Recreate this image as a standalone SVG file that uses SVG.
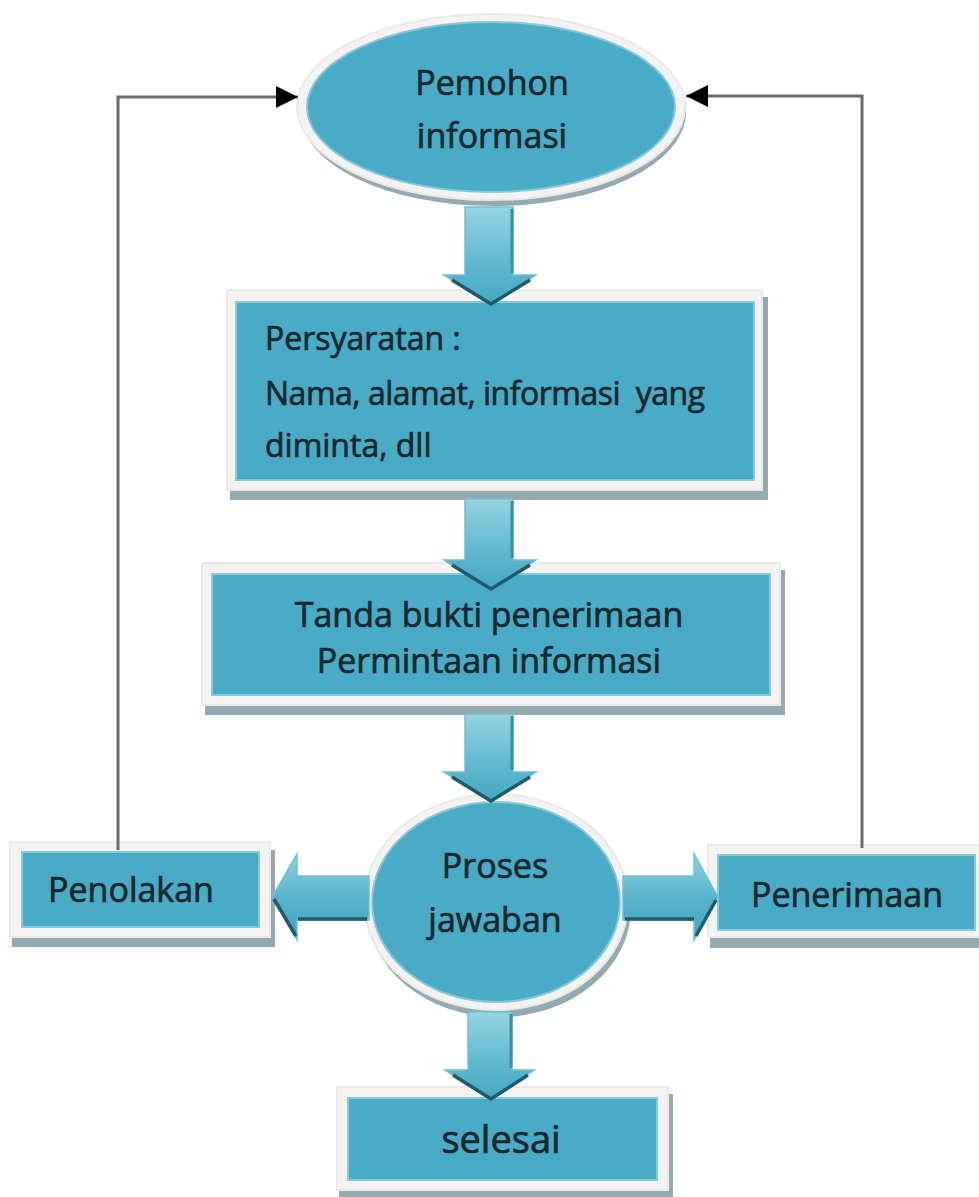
<svg xmlns="http://www.w3.org/2000/svg" width="979" height="1197" viewBox="0 0 979 1197">
<style>
.bg{fill:#ffffff}
.shadow{fill:#93aab1}
.rim{fill:#f5f3f2;stroke:#e9e9e9;stroke-width:2}
.blue{fill:#4aabc6;stroke:#86c9db;stroke-width:2}
.txt{font-family:"Open Sans","Liberation Sans",sans-serif;font-size:34px;fill:#17282e;stroke:#17282e;stroke-width:0.7}
.mid{text-anchor:middle}
.line{fill:none;stroke:#6b6b6b;stroke-width:3}
.barrow{fill:url(#gV);stroke:#6fc0d5;stroke-width:1.5}
.hbarrow{fill:url(#gH);stroke:#6fc0d5;stroke-width:1.5}
.dark{fill:none;stroke:#1f5a69;stroke-width:3.5;stroke-linejoin:miter}
.edge{fill:none;stroke:#3b8ea4;stroke-width:3}
</style>
<defs>
<linearGradient id="gV" x1="0" y1="0" x2="0" y2="1">
<stop offset="0" stop-color="#97d4e3"/>
<stop offset="0.6" stop-color="#5db6cd"/>
<stop offset="1" stop-color="#46a8c2"/>
</linearGradient>
<linearGradient id="gH" x1="0" y1="0" x2="0" y2="1">
<stop offset="0" stop-color="#8fd0e0"/>
<stop offset="0.55" stop-color="#54b1c9"/>
<stop offset="1" stop-color="#45a7c1"/>
</linearGradient>
<marker id="ah" markerUnits="userSpaceOnUse" markerWidth="22" markerHeight="22" viewBox="0 0 22 22" refX="22" refY="11" orient="auto">
<path d="M0,0 L22,11 L0,22 z" fill="#000"/>
</marker>
</defs>
<rect class="bg" x="0" y="0" width="979" height="1197"/>

<g id="pemohon">
<ellipse class="shadow" cx="493" cy="112" rx="193" ry="94"/>
<ellipse class="rim" cx="491" cy="107" rx="194" ry="93"/>
<ellipse class="blue" cx="491" cy="107" rx="184" ry="85"/>
<text class="txt mid" x="492" y="95">Pemohon</text>
<text class="txt mid" x="492" y="148">informasi</text>
</g>

<g id="persyaratan">
<rect class="shadow" x="230" y="297" width="538" height="203"/>
<rect class="rim" x="227" y="290" width="535" height="200"/>
<rect class="blue" x="236" y="302" width="518" height="178"/>
<text class="txt" style="font-size:32px" x="265" y="350">Persyaratan :</text>
<text class="txt" style="font-size:32px" x="265" y="405" textLength="440" lengthAdjust="spacing" xml:space="preserve">Nama, alamat, informasi  yang</text>
<text class="txt" style="font-size:32px" x="265" y="457">diminta, dll</text>
</g>

<g id="tanda-bukti">
<rect class="shadow" x="205" y="570" width="580" height="145"/>
<rect class="rim" x="202" y="563" width="578" height="142"/>
<rect class="blue" x="212" y="574" width="558" height="121"/>
<text class="txt mid" x="489" y="627">Tanda bukti penerimaan</text>
<text class="txt mid" x="489" y="673">Permintaan informasi</text>
</g>

<g id="proses-jawaban">
<ellipse class="shadow" cx="499" cy="908" rx="132" ry="109"/>
<ellipse class="rim" cx="496" cy="902" rx="132" ry="108"/>
<ellipse class="blue" cx="496" cy="902" rx="124" ry="100"/>
<text class="txt mid" x="495" y="878">Proses</text>
<text class="txt mid" x="495" y="932">jawaban</text>
</g>

<g id="penolakan">
<rect class="shadow" x="12" y="850" width="263" height="97"/>
<rect class="rim" x="10" y="842" width="260" height="95"/>
<rect class="blue" x="22" y="852" width="237" height="75"/>
<text class="txt mid" x="131" y="902">Penolakan</text>
</g>

<g id="penerimaan">
<rect class="shadow" x="710" y="852" width="280" height="96"/>
<rect class="rim" x="708" y="845" width="280" height="92"/>
<rect class="blue" x="718" y="855" width="257" height="75"/>
<text class="txt mid" x="847" y="907">Penerimaan</text>
</g>

<g id="selesai">
<rect class="shadow" x="339" y="1094" width="334" height="103"/>
<rect class="rim" x="337" y="1087" width="331" height="103"/>
<rect class="blue" x="348" y="1098" width="309" height="82"/>
<text class="txt mid" style="font-size:38px" x="501" y="1153">selesai</text>
</g>

<g id="connectors">
<path class="line" d="M118,850 V97 H298" marker-end="url(#ah)"/>
<path class="line" d="M862,848 V96 H686" marker-end="url(#ah)"/>

<path class="barrow" d="M465,207 H513 V275 H536 L491,305 L444,275 H465 Z"/>
<path class="edge" d="M512,209 V273"/>
<path class="dark" d="M452,280 L491,304 L530,280"/>

<path class="barrow" d="M465,499 H513 V560 H536 L491,590 L444,560 H465 Z"/>
<path class="edge" d="M512,501 V558"/>
<path class="dark" d="M452,565 L491,589 L530,565"/>

<path class="barrow" d="M465,714 H513 V772 H536 L491,802 L444,772 H465 Z"/>
<path class="edge" d="M512,716 V770"/>
<path class="dark" d="M452,777 L491,801 L530,777"/>

<path class="barrow" d="M468,1012 H512 V1070 H534 L491,1100 L445,1070 H468 Z"/>
<path class="edge" d="M511,1014 V1068"/>
<path class="dark" d="M453,1075 L491,1099 L528,1075"/>

<path class="hbarrow" d="M369,876 V920 H297 V940 L272,897 L297,854 V876 Z"/>
<path class="dark" d="M367,919 H298"/>
<path class="dark" d="M296,936 L274,899"/>

<path class="hbarrow" d="M623,876 V920 H694 V940 L718,897 L694,854 V876 Z"/>
<path class="dark" d="M625,919 H694"/>
<path class="dark" d="M696,936 L716,900"/>
</g>
</svg>
